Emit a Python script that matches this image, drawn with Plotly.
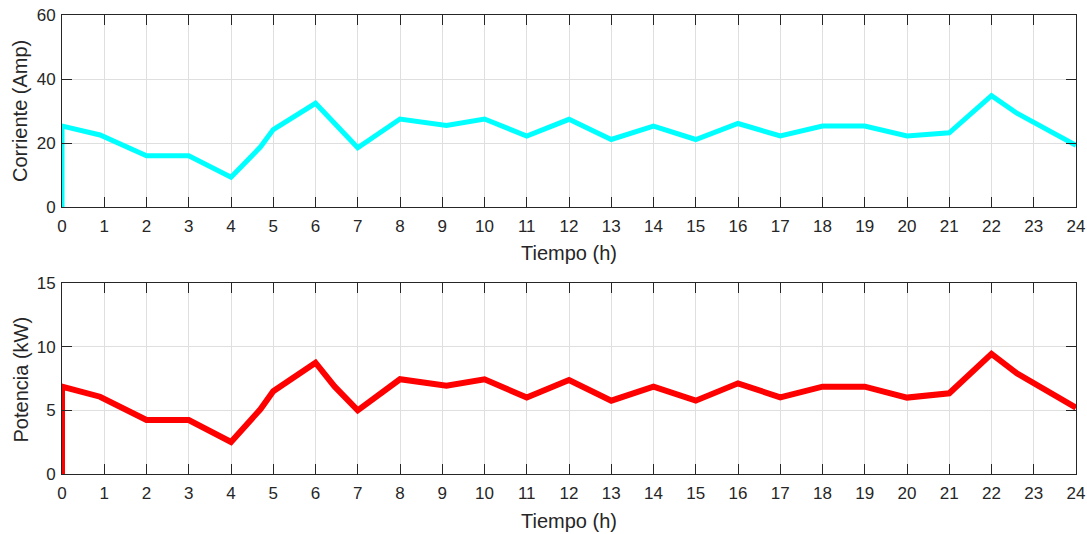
import plotly.graph_objects as go

# Hourly profile of battery current and power over a day
hours = [0, 0, 0.9, 2, 3, 4, 4.7, 5, 6, 6.45, 7, 8, 9.1, 10, 11, 12, 13, 14, 15,
         16, 17, 18, 19, 20, 21, 22, 22.6, 24]
corriente = [0, 25.3, 22.5, 16.0, 16.0, 9.3, 18.8, 24.2, 32.4, 26.0, 18.5, 27.5,
             25.5, 27.5, 22.2, 27.4, 21.1, 25.3, 21.1, 26.1, 22.2, 25.3, 25.3,
             22.2, 23.2, 34.8, 29.3, 19.3]
potencia = [0, 6.86, 6.07, 4.24, 4.24, 2.52, 5.1, 6.5, 8.74, 6.88, 5.0, 7.44,
            6.94, 7.44, 6.0, 7.38, 5.76, 6.86, 5.76, 7.12, 6.02, 6.86, 6.86,
            6.0, 6.34, 9.43, 7.91, 5.21]

x_ticks = list(range(0, 25))
corriente_ticks = [0, 20, 40, 60]
potencia_ticks = [0, 5, 10, 15]

ink = "#262626"
grid = "#dfdfdf"
font_family = "Liberation Sans, Arial, Helvetica, sans-serif"

fig = go.Figure()
fig.add_trace(go.Scatter(x=hours, y=corriente, mode="lines",
                         line=dict(color="#00FFFF", width=5),
                         xaxis="x", yaxis="y", showlegend=False))
fig.add_trace(go.Scatter(x=hours, y=potencia, mode="lines",
                         line=dict(color="#FF0000", width=6),
                         xaxis="x2", yaxis="y2", showlegend=False))

W, H = 1087, 534
x_dom = [62 / W, 1076 / W]
top_dom = [(H - 207) / H, (H - 15) / H]
bot_dom = [(H - 474) / H, (H - 283) / H]

common_axis = dict(
    showline=True, linecolor=ink, linewidth=1, mirror="ticks",
    ticks="inside", ticklen=10, tickwidth=1, tickcolor=ink,
    showgrid=True, gridcolor=grid, gridwidth=1, zeroline=False,
    automargin=False,
    tickfont=dict(family=font_family, size=17, color=ink),
)
x_axis = dict(common_axis, ticklabelstandoff=4)
y_axis = dict(common_axis, ticklabelstandoff=2)

fig.update_layout(
    width=W, height=H,
    margin=dict(l=0, r=0, t=0, b=0),
    paper_bgcolor="white", plot_bgcolor="white",
    font=dict(family=font_family, color=ink),
    xaxis=dict(domain=x_dom, anchor="y", range=[0, 24], tickvals=x_ticks, **x_axis),
    yaxis=dict(domain=top_dom, anchor="x", range=[0, 60], tickvals=corriente_ticks, **y_axis),
    xaxis2=dict(domain=x_dom, anchor="y2", range=[0, 24], tickvals=x_ticks, **x_axis),
    yaxis2=dict(domain=bot_dom, anchor="x2", range=[0, 15], tickvals=potencia_ticks, **y_axis),
)

title_font = dict(family=font_family, size=20, color=ink)
x_center = (x_dom[0] + x_dom[1]) / 2
fig.add_annotation(text="Tiempo (h)", x=x_center, y=(H - 253) / H, xref="paper", yref="paper",
                   showarrow=False, font=title_font, xanchor="center", yanchor="middle")
fig.add_annotation(text="Tiempo (h)", x=x_center, y=(H - 521) / H, xref="paper", yref="paper",
                   showarrow=False, font=title_font, xanchor="center", yanchor="middle")
fig.add_annotation(text="Corriente (Amp)", x=20 / W, y=(H - 111) / H, xref="paper", yref="paper",
                   showarrow=False, font=title_font, textangle=-90, xanchor="center", yanchor="middle")
fig.add_annotation(text="Potencia (kW)", x=20 / W, y=(H - 379.5) / H, xref="paper", yref="paper",
                   showarrow=False, font=title_font, textangle=-90, xanchor="center", yanchor="middle")

fig.write_html("out.html")
